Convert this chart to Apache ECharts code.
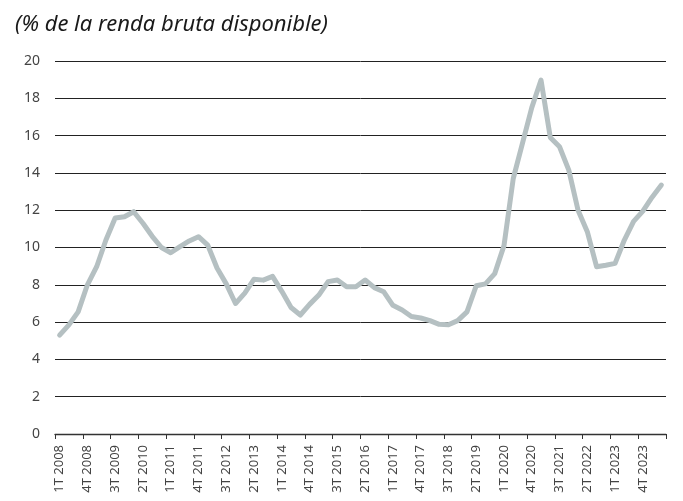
<!DOCTYPE html>
<html>
<head>
<meta charset="utf-8">
<script src="https://cdn.jsdelivr.net/npm/echarts@6/dist/echarts.min.js"></script>
<style>
  html, body { margin: 0; padding: 0; background: #fff; }
  #chart { width: 683px; height: 501px; }
</style>
</head>
<body>
<div id="chart"></div>
<script>
// quarters 1T 2008 .. 2T 2024
var years = [2008, 2009, 2010, 2011, 2012, 2013, 2014, 2015, 2016, 2017, 2018, 2019, 2020, 2021, 2022, 2023, 2024];
var quarters = [];
years.forEach(function (y) {
  for (var q = 1; q <= 4; q++) {
    if (y === 2024 && q > 2) break;
    quarters.push(q + 'T ' + y);
  }
});

var savingRate = [
  5.3, 5.85, 6.55, 8.0, 8.97, 10.4, 11.58, 11.65, 11.92, 11.3,
  10.6, 10.0, 9.72, 10.05, 10.35, 10.58, 10.13, 8.9, 8.05, 7.0,
  7.55, 8.3, 8.25, 8.45, 7.65, 6.78, 6.38, 6.95, 7.45, 8.17,
  8.26, 7.9, 7.9, 8.26, 7.85, 7.63, 6.9, 6.65, 6.3, 6.22,
  6.08, 5.88, 5.86, 6.08, 6.55, 7.95, 8.05, 8.6, 10.1, 13.7,
  15.6, 17.5, 18.98, 15.9, 15.4, 14.15, 12.0, 10.85, 8.97, 9.05,
  9.15, 10.4, 11.4, 11.95, 12.7, 13.35
];

var chart = echarts.init(document.getElementById('chart'));
var option = {
  backgroundColor: '#ffffff',
  animation: false,
  title: {
    text: '(% de la renda bruta disponible)',
    left: 10,
    top: 9,
    textStyle: {
      fontFamily: 'Noto Sans',
      fontStyle: 'italic',
      fontWeight: 'normal',
      fontSize: 22,
      color: '#1a1a1a'
    }
  },
  grid: {
    left: 55,
    right: 17,
    top: 61,
    bottom: 67
  },
  xAxis: {
    type: 'category',
    data: quarters,
    boundaryGap: true,
    axisLine: { lineStyle: { color: '#333', width: 1.3 } },
    axisTick: {
      show: true,
      interval: 2,
      length: 5,
      lineStyle: { color: '#333' }
    },
    axisLabel: {
      interval: 2,
      rotate: 90,
      margin: 11,
      fontFamily: 'Noto Sans',
      fontSize: 13,
      color: '#444'
    }
  },
  yAxis: {
    type: 'value',
    min: 0,
    max: 20,
    interval: 2,
    axisLine: { show: false },
    axisTick: { show: false },
    axisLabel: {
      margin: 15,
      fontFamily: 'Noto Sans',
      fontSize: 14,
      color: '#444'
    },
    splitLine: { lineStyle: { color: '#222', width: 1 } }
  },
  series: [{
    name: 'Taxa',
    type: 'line',
    data: savingRate,
    symbol: 'none',
    smooth: false,
    lineStyle: { color: '#b5c0c2', width: 5, cap: 'round', join: 'round' }
  }]
};
chart.setOption(option);
</script>
</body>
</html>
